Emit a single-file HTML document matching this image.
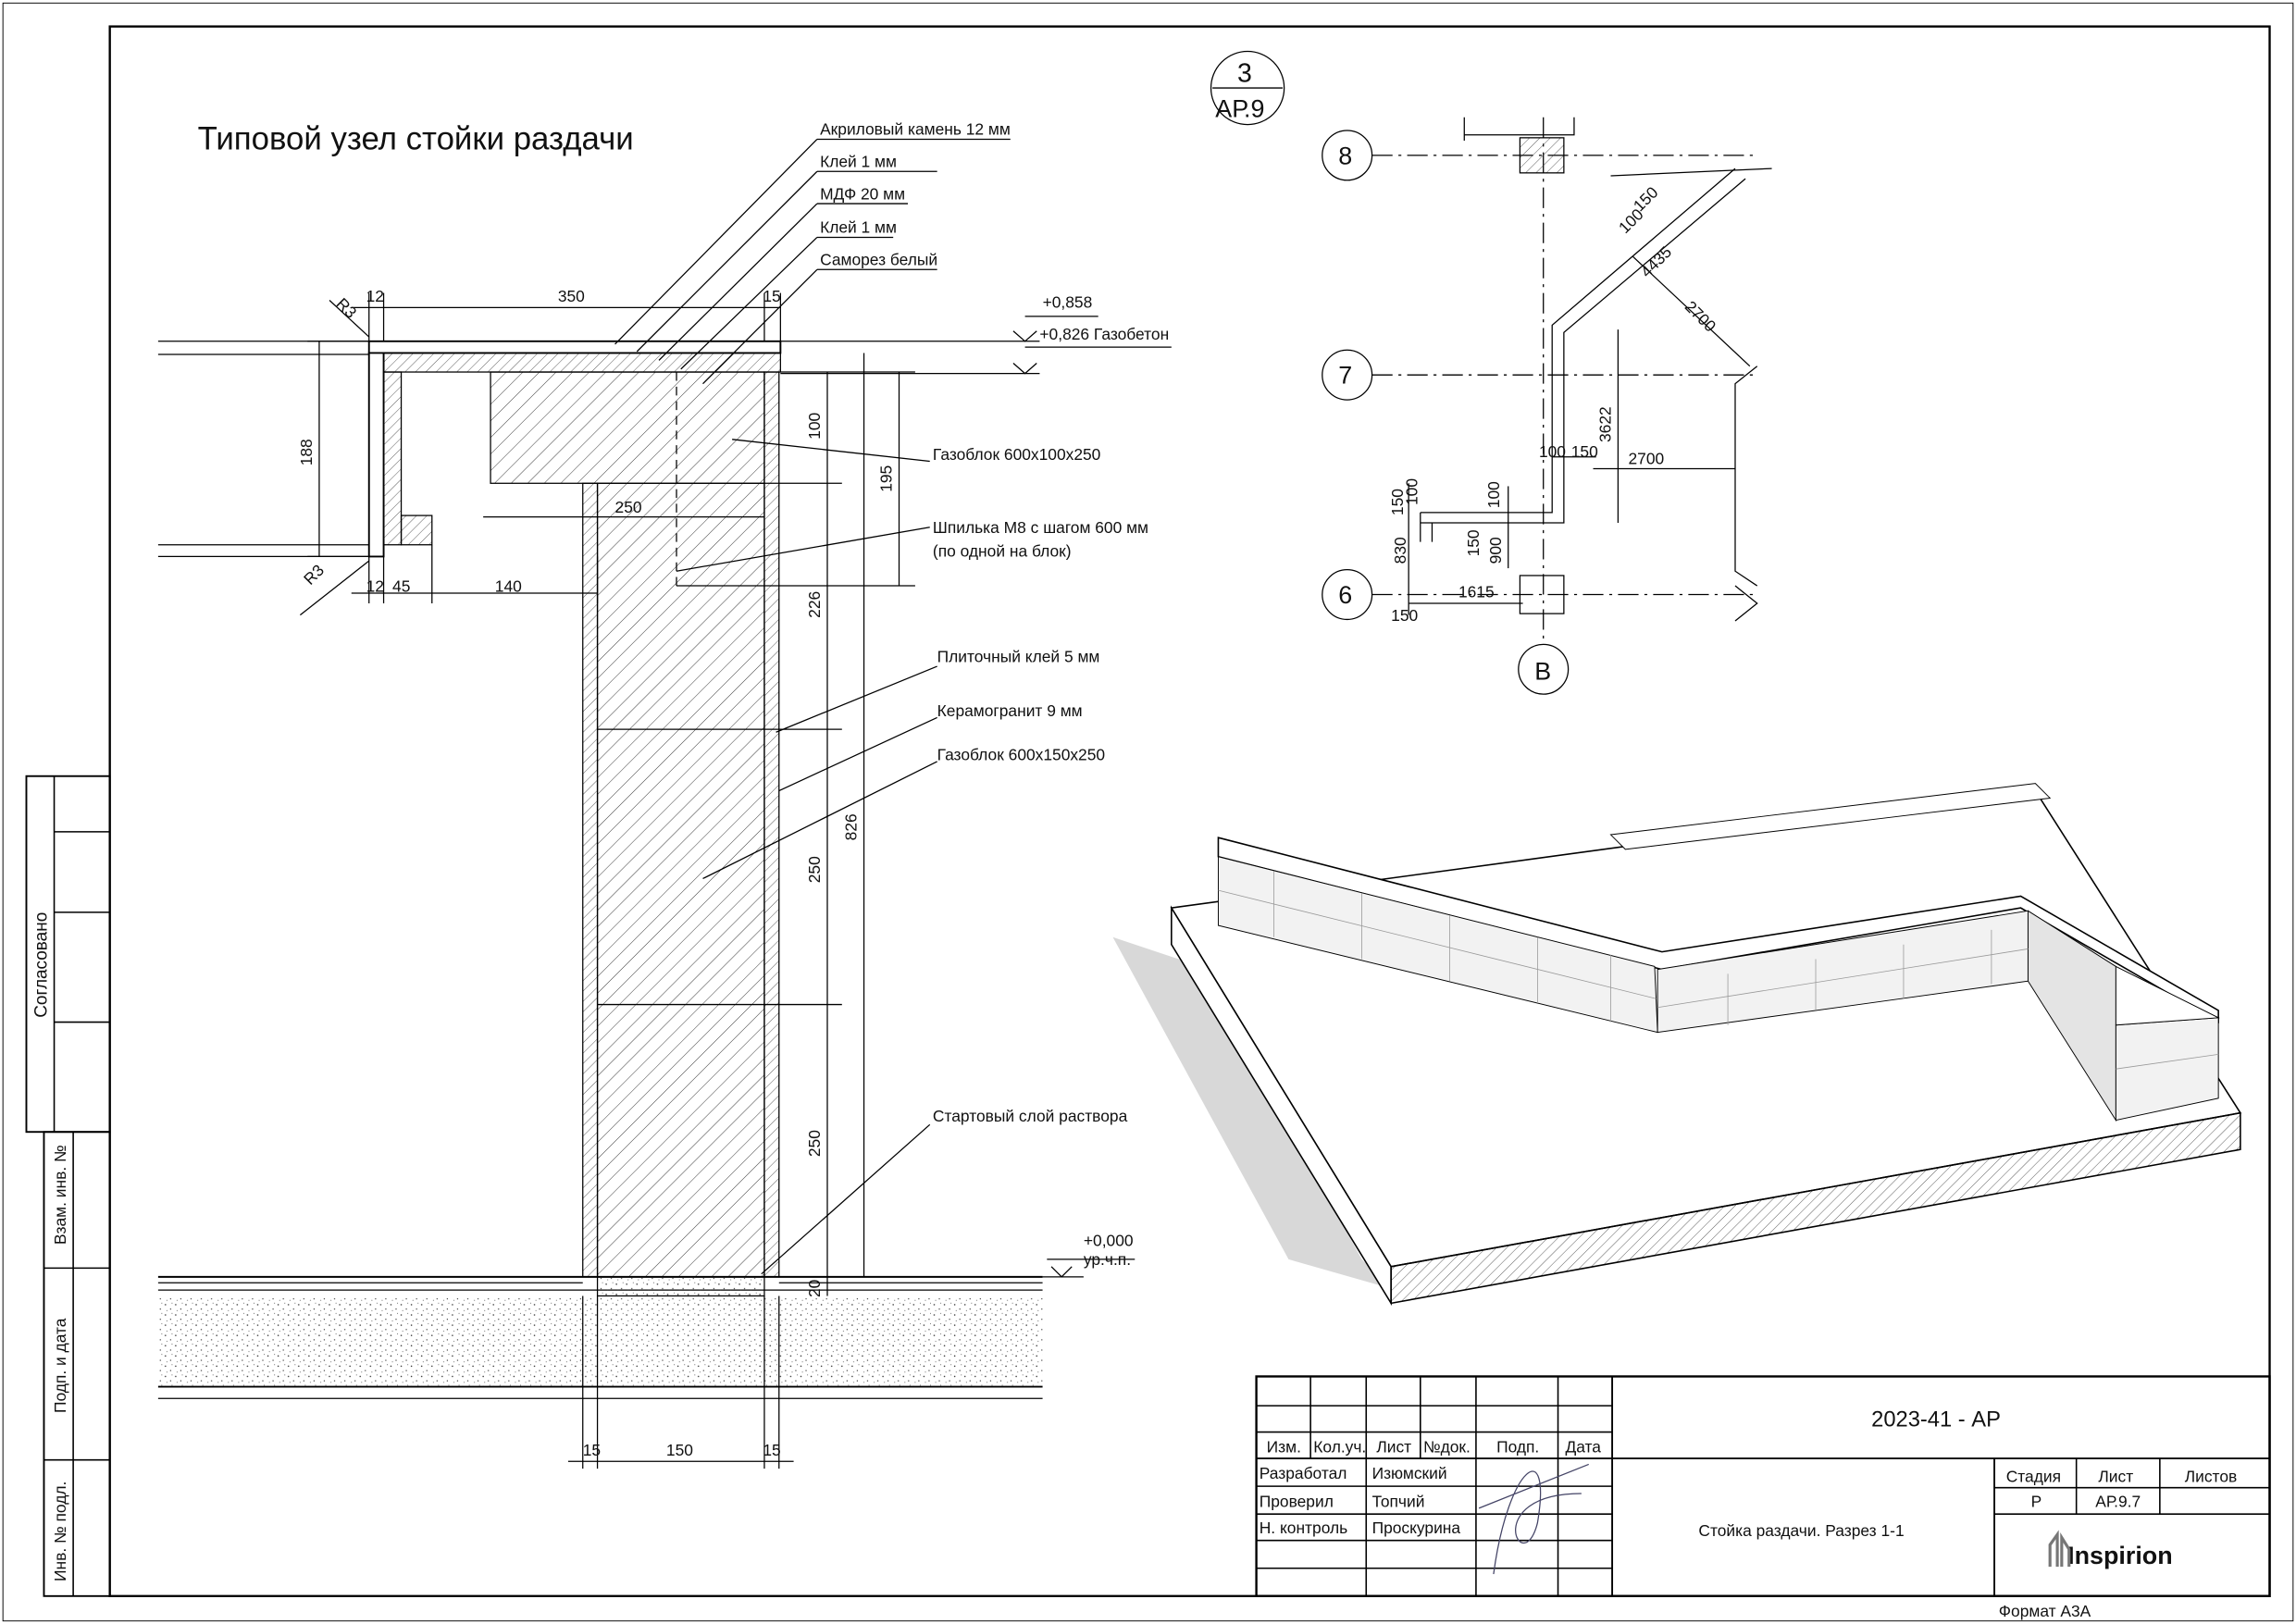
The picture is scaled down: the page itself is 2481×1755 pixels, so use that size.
<!DOCTYPE html>
<html><head><meta charset="utf-8"><style>
html,body{margin:0;padding:0;background:#fff}
svg{display:block}
text{font-family:"Liberation Sans",sans-serif;fill:#111}
</style></head><body>
<svg width="2481" height="1755" viewBox="0 0 1568 1109" xmlns="http://www.w3.org/2000/svg">
<defs>
<pattern id="h" width="8" height="8" patternUnits="userSpaceOnUse" patternTransform="rotate(45)"><line x1="0" y1="0" x2="0" y2="8" stroke="#333" stroke-width="0.6"/></pattern>
<pattern id="h2" width="5" height="5" patternUnits="userSpaceOnUse" patternTransform="rotate(45)"><line x1="0" y1="0" x2="0" y2="5" stroke="#333" stroke-width="0.5"/></pattern>
<pattern id="d" width="7" height="7" patternUnits="userSpaceOnUse"><circle cx="1" cy="2" r="0.5" fill="#333"/><circle cx="4.5" cy="5" r="0.4" fill="#333"/><circle cx="5.5" cy="1" r="0.3" fill="#333"/><circle cx="2" cy="6" r="0.3" fill="#333"/></pattern>
</defs>
<g fill="none" stroke="#000" stroke-width="1">
<rect x="2" y="2" width="1564" height="1105" stroke-width="0.6"/>
<rect x="75" y="18" width="1475" height="1072" stroke-width="1.5"/>
<rect x="18" y="530" width="57" height="243" stroke-width="1.2"/>
<line x1="37" y1="530" x2="37" y2="773"/>
<line x1="37" y1="568" x2="75" y2="568"/><line x1="37" y1="623" x2="75" y2="623"/><line x1="37" y1="698" x2="75" y2="698"/>
<rect x="30" y="773" width="45" height="317" stroke-width="1.2"/>
<line x1="50" y1="773" x2="50" y2="1090"/>
<line x1="30" y1="866" x2="75" y2="866"/><line x1="30" y1="997" x2="75" y2="997"/>
<rect x="858" y="940" width="692" height="150" stroke-width="1.5"/>
<line x1="1101" y1="940" x2="1101" y2="1090" stroke-width="1.2"/>
<line x1="1101" y1="996" x2="1550" y2="996" stroke-width="1.2"/>
<line x1="1362" y1="996" x2="1362" y2="1090" stroke-width="1.2"/>
<line x1="1362" y1="1016" x2="1550" y2="1016"/><line x1="1362" y1="1034" x2="1550" y2="1034"/>
<line x1="1418" y1="996" x2="1418" y2="1034"/><line x1="1475" y1="996" x2="1475" y2="1034"/>
<line x1="858" y1="960" x2="1101" y2="960"/><line x1="858" y1="978" x2="1101" y2="978"/><line x1="858" y1="996" x2="1101" y2="996" stroke-width="1.2"/>
<line x1="858" y1="1015" x2="1101" y2="1015"/><line x1="858" y1="1034" x2="1101" y2="1034"/><line x1="858" y1="1052" x2="1101" y2="1052"/><line x1="858" y1="1071" x2="1101" y2="1071"/>
<line x1="895" y1="940" x2="895" y2="996"/><line x1="933" y1="940" x2="933" y2="1090"/><line x1="970" y1="940" x2="970" y2="996"/><line x1="1008" y1="940" x2="1008" y2="1090"/><line x1="1064" y1="940" x2="1064" y2="1090"/>
</g>
<g font-size="11">
<text x="865" y="992">Изм.</text><text x="897" y="992">Кол.уч.</text><text x="940" y="992">Лист</text><text x="972" y="992">№док.</text><text x="1022" y="992">Подп.</text><text x="1069" y="992">Дата</text>
<text x="860" y="1010">Разработал</text><text x="937" y="1010">Изюмский</text>
<text x="860" y="1029">Проверил</text><text x="937" y="1029">Топчий</text>
<text x="860" y="1047">Н. контроль</text><text x="937" y="1047">Проскурина</text>
<text x="1278" y="974" font-size="15">2023-41 - АР</text>
<text x="1160" y="1049">Стойка раздачи. Разрез 1-1</text>
<text x="1370" y="1012">Стадия</text><text x="1433" y="1012">Лист</text><text x="1492" y="1012">Листов</text>
<text x="1387" y="1029">Р</text><text x="1431" y="1029">АР.9.7</text>
<text x="1412" y="1068" font-size="17" font-family="Liberation Serif" font-weight="bold" fill="#555">Inspirion</text>
<text x="1365" y="1104" font-size="11">Формат А3А</text>
<text transform="translate(32,695) rotate(-90)" font-size="12">Согласовано</text>
<text transform="translate(45,850) rotate(-90)" font-size="11">Взам. инв. №</text>
<text transform="translate(45,965) rotate(-90)" font-size="11">Подп. и дата</text>
<text transform="translate(45,1080) rotate(-90)" font-size="11">Инв. № подл.</text>
</g>
<path d="M1020,1075 C1030,1000 1060,980 1050,1040 C1040,1080 1010,1020 1080,1020 M1010,1030 L1085,1000" fill="none" stroke="#446" stroke-width="0.8"/>
<path d="M1400,1070 L1400,1055 L1405,1048 L1405,1070 M1408,1070 L1408,1050 L1413,1058 L1413,1070" stroke="#777" stroke-width="2" fill="none"/>

<text x="135" y="102" font-size="22">Типовой узел стойки раздачи</text>
<g stroke="#000" stroke-width="0.8" fill="none">
<line x1="108" y1="233" x2="252" y2="233"/><line x1="108" y1="242" x2="252" y2="242"/>
<line x1="108" y1="372" x2="252" y2="372"/><line x1="108" y1="380" x2="252" y2="380"/>
<rect x="335" y="254" width="187" height="76" fill="url(#h)"/>
<rect x="408" y="330" width="114" height="542" fill="url(#h)"/>
<line x1="408" y1="498" x2="522" y2="498"/><line x1="408" y1="686" x2="522" y2="686"/>
<rect x="398" y="330" width="10" height="542" fill="url(#h2)"/>
<rect x="522" y="254" width="10" height="618" fill="url(#h2)"/>
<rect x="252" y="233" width="281" height="8" fill="#fff" stroke-width="1.2"/>
<rect x="262" y="241" width="271" height="13" fill="url(#h2)"/>
<path d="M252,241 L262,241 L262,380 L252,380 Z" fill="#fff" stroke-width="1.2"/>
<rect x="262" y="254" width="12" height="118" fill="url(#h2)"/>
<rect x="274" y="352" width="21" height="20" fill="url(#h2)"/>
<line x1="462" y1="254" x2="462" y2="400" stroke-dasharray="6,4"/>
<line x1="108" y1="872" x2="712" y2="872" stroke-width="1.2"/><line x1="108" y1="876" x2="398" y2="876"/><line x1="532" y1="876" x2="712" y2="876"/><line x1="108" y1="881" x2="712" y2="881"/>
<rect x="108" y="885" width="604" height="62" fill="url(#d)" stroke="none"/>
<rect x="408" y="872" width="114" height="13" fill="url(#d)"/>
<line x1="108" y1="947" x2="712" y2="947" stroke-width="1.2"/><line x1="108" y1="955" x2="712" y2="955"/>
<line x1="240" y1="210" x2="533" y2="210"/><line x1="252" y1="200" x2="252" y2="233"/><line x1="262" y1="200" x2="262" y2="233"/><line x1="522" y1="200" x2="522" y2="233"/><line x1="533" y1="200" x2="533" y2="233"/>
<line x1="218" y1="233" x2="218" y2="380"/><line x1="210" y1="233" x2="252" y2="233"/><line x1="210" y1="380" x2="252" y2="380"/>
<line x1="240" y1="405" x2="408" y2="405"/><line x1="252" y1="380" x2="252" y2="412"/><line x1="262" y1="380" x2="262" y2="412"/><line x1="295" y1="372" x2="295" y2="412"/><line x1="408" y1="380" x2="408" y2="412"/>
<line x1="330" y1="353" x2="522" y2="353"/>
<line x1="565" y1="254" x2="565" y2="885"/><line x1="590" y1="241" x2="590" y2="872"/><line x1="614" y1="254" x2="614" y2="400"/>
<line x1="522" y1="330" x2="575" y2="330"/><line x1="522" y1="498" x2="575" y2="498"/><line x1="522" y1="686" x2="575" y2="686"/><line x1="533" y1="254" x2="625" y2="254"/><line x1="462" y1="400" x2="625" y2="400"/>
<line x1="398" y1="885" x2="398" y2="1003"/><line x1="408" y1="885" x2="408" y2="1003"/><line x1="522" y1="885" x2="522" y2="1003"/><line x1="532" y1="885" x2="532" y2="1003"/><line x1="388" y1="998" x2="542" y2="998"/>
<line x1="558" y1="95" x2="420" y2="235"/><line x1="558" y1="117" x2="435" y2="240"/><line x1="558" y1="139" x2="450" y2="246"/><line x1="558" y1="162" x2="465" y2="252"/><line x1="558" y1="184" x2="480" y2="262"/>
<line x1="558" y1="95" x2="690" y2="95"/><line x1="558" y1="117" x2="640" y2="117"/><line x1="558" y1="139" x2="620" y2="139"/><line x1="558" y1="162" x2="610" y2="162"/><line x1="558" y1="184" x2="640" y2="184"/>
<line x1="500" y1="300" x2="635" y2="315"/><line x1="462" y1="390" x2="635" y2="360"/>
<line x1="530" y1="500" x2="640" y2="455"/><line x1="532" y1="540" x2="640" y2="490"/><line x1="480" y1="600" x2="640" y2="520"/>
<line x1="520" y1="870" x2="635" y2="768"/>
<line x1="533" y1="233" x2="710" y2="233"/><line x1="533" y1="255" x2="710" y2="255"/>
<line x1="700" y1="216" x2="750" y2="216"/><line x1="700" y1="237" x2="800" y2="237"/>
<line x1="715" y1="860" x2="775" y2="860"/><line x1="712" y1="872" x2="740" y2="872"/>
<path d="M692,226 L700,233 L708,226 M692,248 L700,255 L708,248 M718,865 L725,872 L732,865"/>
<line x1="225" y1="205" x2="252" y2="230"/><line x1="205" y1="420" x2="252" y2="383"/>
</g>
<g font-size="11">
<text x="560" y="92">Акриловый камень 12 мм</text><text x="560" y="114">Клей 1 мм</text><text x="560" y="136">МДФ 20 мм</text><text x="560" y="159">Клей 1 мм</text><text x="560" y="181">Саморез белый</text>
<text x="712" y="210">+0,858</text><text x="710" y="232">+0,826 Газобетон</text>
<text x="637" y="314">Газоблок 600х100х250</text><text x="637" y="364">Шпилька М8 с шагом 600 мм</text><text x="637" y="380">(по одной на блок)</text>
<text x="640" y="452">Плиточный клей 5 мм</text><text x="640" y="489">Керамогранит 9 мм</text><text x="640" y="519">Газоблок 600х150х250</text>
<text x="637" y="766">Стартовый слой раствора</text>
<text x="740" y="851">+0,000</text><text x="740" y="864">ур.ч.п.</text>
<text x="381" y="206">350</text><text x="250" y="206">12</text><text x="521" y="206">15</text><text x="229" y="208" transform="rotate(45 229 208)">R3</text>
<text x="250" y="404">12</text><text x="268" y="404">45</text><text x="338" y="404">140</text><text x="420" y="350">250</text>
<text x="455" y="994">150</text><text x="398" y="994">15</text><text x="521" y="994">15</text>
<text x="213" y="318" transform="rotate(-90 213 318)">188</text>
<text x="560" y="300" transform="rotate(-90 560 300)">100</text><text x="560" y="422" transform="rotate(-90 560 422)">226</text>
<text x="560" y="603" transform="rotate(-90 560 603)">250</text><text x="560" y="790" transform="rotate(-90 560 790)">250</text><text x="560" y="886" transform="rotate(-90 560 886)">20</text>
<text x="585" y="574" transform="rotate(-90 585 574)">826</text><text x="609" y="336" transform="rotate(-90 609 336)">195</text>
<text x="212" y="400" transform="rotate(-45 212 400)">R3</text>
</g>

<g stroke="#000" stroke-width="0.8" fill="none">
<circle cx="852" cy="60" r="25"/><line x1="828" y1="60" x2="876" y2="60"/>
<circle cx="920" cy="106" r="17"/><circle cx="920" cy="256" r="17"/><circle cx="920" cy="406" r="17"/><circle cx="1054" cy="457" r="17"/>
<g stroke-dasharray="14,4,2,4"><line x1="937" y1="106" x2="1200" y2="106"/><line x1="937" y1="256" x2="1200" y2="256"/><line x1="937" y1="406" x2="1200" y2="406"/><line x1="1054" y1="80" x2="1054" y2="440"/></g>
<rect x="1038" y="94" width="30" height="24" fill="url(#h2)"/><rect x="1038" y="393" width="30" height="26"/>
<path d="M1000,96 L1000,80 M1000,92 L1075,92 L1075,80"/>
<path d="M970,350 L1060,350 L1060,222 L1185,115 M970,357 L1068,357 L1068,227 L1192,122 M970,350 L970,370 M978,357 L978,370"/>
<path d="M1200,250 L1185,262 L1185,390 L1200,400 M1185,400 L1200,412 L1185,424"/>
<line x1="1088" y1="320" x2="1185" y2="320"/><line x1="1105" y1="225" x2="1105" y2="357"/><line x1="1115" y1="175" x2="1195" y2="250"/>
<line x1="962" y1="330" x2="962" y2="420"/><line x1="1030" y1="332" x2="1030" y2="388"/><line x1="962" y1="412" x2="1040" y2="412"/>
<line x1="1060" y1="312" x2="1090" y2="312"/><line x1="1100" y1="120" x2="1210" y2="115"/>
</g>
<g font-size="11">
<text x="845" y="56" font-size="18">3</text><text x="830" y="80" font-size="17">АР.9</text>
<text x="914" y="112" font-size="17">8</text><text x="914" y="262" font-size="17">7</text><text x="914" y="412" font-size="17">6</text><text x="1048" y="464" font-size="17">В</text>
<text x="1112" y="317">2700</text><text x="1051" y="312">100</text><text x="1073" y="312">150</text><text x="996" y="408">1615</text><text x="950" y="424">150</text>
<text x="1100" y="302" transform="rotate(-90 1100 302)">3622</text>
<text x="960" y="385" transform="rotate(-90 960 385)">830</text><text x="958" y="352" transform="rotate(-90 958 352)">150</text><text x="968" y="345" transform="rotate(-90 968 345)">100</text>
<text x="1010" y="380" transform="rotate(-90 1010 380)">150</text><text x="1025" y="385" transform="rotate(-90 1025 385)">900</text><text x="1024" y="347" transform="rotate(-90 1024 347)">100</text>
<text x="1150" y="210" transform="rotate(45 1150 210)">2700</text><text x="1125" y="190" transform="rotate(-45 1125 190)">4435</text>
<text x="1110" y="160" transform="rotate(-45 1110 160)">100</text><text x="1120" y="145" transform="rotate(-45 1120 145)">150</text>
</g>

<g stroke="#000" stroke-width="1">
<polygon points="760,640 820,660 930,860 950,880 880,860" fill="#d8d8d8" stroke="none"/>
<polygon points="1360,660 1400,740 1450,770 1420,700" fill="#ddd" stroke="none"/>
<polygon points="800,620 1390,540 1530,760 950,865" fill="#fff"/>
<polygon points="800,620 950,865 950,890 800,645" fill="#fff"/>
<polygon points="950,865 1530,760 1530,785 950,890" fill="url(#h2)"/>
<polygon points="1100,570 1390,535 1400,545 1110,580" fill="#fff" stroke-width="0.6"/>
<polygon points="832,572 1135,650 1380,612 1515,690 1515,698 1380,620 1135,662 832,585" fill="#fff"/>
<polygon points="832,585 1130,660 1132,705 832,632" fill="#f2f2f2" stroke-width="0.6"/>
<polygon points="1132,662 1385,622 1385,670 1132,705" fill="#f2f2f2" stroke-width="0.6"/>
<polygon points="1385,622 1445,660 1445,765 1385,670" fill="#e4e4e4" stroke-width="0.6"/>
<polygon points="1445,700 1515,695 1515,750 1445,765" fill="#f2f2f2" stroke-width="0.6"/>
<polygon points="1445,660 1515,695 1445,700" fill="#fff" stroke-width="0.6"/>
</g>
<g stroke="#999" stroke-width="0.5">
<line x1="832" y1="608" x2="1131" y2="682"/><line x1="1132" y1="688" x2="1385" y2="648"/><line x1="1445" y1="730" x2="1515" y2="720"/>
<line x1="870" y1="595" x2="870" y2="640"/><line x1="930" y1="610" x2="930" y2="655"/><line x1="990" y1="625" x2="990" y2="670"/><line x1="1050" y1="640" x2="1050" y2="685"/><line x1="1100" y1="652" x2="1100" y2="698"/>
<line x1="1180" y1="665" x2="1180" y2="700"/><line x1="1240" y1="655" x2="1240" y2="690"/><line x1="1300" y1="645" x2="1300" y2="682"/><line x1="1360" y1="635" x2="1360" y2="672"/>
</g>
</svg>
</body></html>
